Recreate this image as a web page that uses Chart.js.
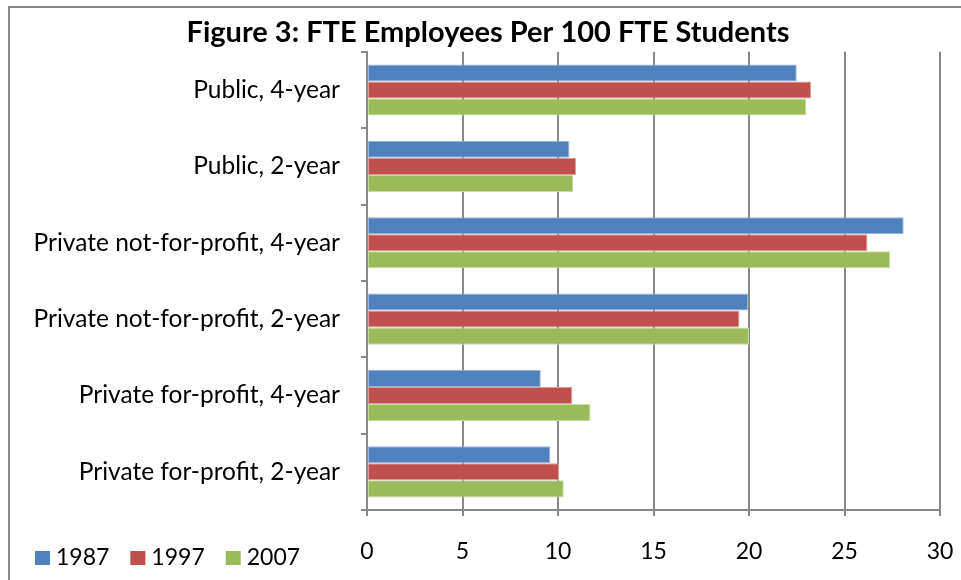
<!DOCTYPE html>
<html>
<head>
<meta charset="utf-8">
<script src="https://cdn.jsdelivr.net/npm/chart.js@4.4.0/dist/chart.umd.min.js"></script>
<style>
  html, body { margin: 0; padding: 0; background: #fff; }
  #wrap { width: 961px; height: 580px; position: relative; }
</style>
</head>
<body>
<div id="wrap"><canvas id="barChart" width="961" height="580"></canvas></div>
<script>
// dati
const categories = [
  "Public, 4-year",
  "Public, 2-year",
  "Private not-for-profit, 4-year",
  "Private not-for-profit, 2-year",
  "Private for-profit, 4-year",
  "Private for-profit, 2-year"
];
const years = ["1987", "1997", "2007"];
const values1987 = [22.5, 10.6, 28.1, 19.95, 9.1, 9.6];
const values1997 = [23.25, 10.95, 26.2, 19.5, 10.75, 10.05];
const values2007 = [23.0, 10.8, 27.4, 20.0, 11.7, 10.3];
const xTicks = [0, 5, 10, 15, 20, 25, 30];

const fillColors = ["#4F81BD", "#C0504D", "#9BBB59"];
const edgeColors = ["#9DB7DA", "#DB9C9A", "#C6D9A3"];
const gridColor = "#888888";
const fontFamily = "Lato, 'Open Sans', sans-serif";

// bordo esterno + legenda in basso a sinistra
const frameAndLegend = {
  id: "frameAndLegend",
  afterLayout(chart) {
    // sposta un po' il titolo a destra come nell'originale
    if (chart.titleBlock) {
      chart.titleBlock.left += 18;
      chart.titleBlock.right += 18;
    }
  },
  afterDraw(chart) {
    const ctx = chart.ctx;
    ctx.save();
    ctx.strokeStyle = gridColor;
    ctx.lineWidth = 2;
    ctx.strokeRect(9, 7, 1000, 1000);

    ctx.font = "23px " + fontFamily;
    ctx.textBaseline = "middle";
    let x = 35;
    chart.data.datasets.forEach((ds) => {
      ctx.fillStyle = ds.backgroundColor;
      ctx.fillRect(x, 551, 15, 14);
      ctx.fillStyle = "#000";
      ctx.fillText(ds.label, x + 21, 558);
      x += 21 + ctx.measureText(ds.label).width + 21;
    });
    ctx.restore();
  },
};

const ctx = document.getElementById("barChart").getContext("2d");
new Chart(ctx, {
  type: "bar",
  data: {
    labels: categories,
    datasets: [values1987, values1997, values2007].map((vals, i) => ({
      label: years[i],
      data: vals,
      backgroundColor: fillColors[i],
      borderColor: edgeColors[i],
      borderWidth: 1,
      borderSkipped: false,
      categoryPercentage: 0.67,
      barPercentage: 1.0,
    })),
  },
  options: {
    indexAxis: "y",
    responsive: false,
    animation: false,
    layout: { padding: { left: 0, right: 21, top: 0, bottom: 0 } },
    plugins: {
      legend: { display: false },
      tooltip: { enabled: false },
      title: {
        display: true,
        text: "Figure 3: FTE Employees Per 100 FTE Students",
        color: "#000",
        font: { family: fontFamily, size: 29, weight: "bold", lineHeight: 1.2 },
        padding: { top: 15, bottom: 2 },
      },
    },
    scales: {
      x: {
        min: 0,
        max: 30,
        afterBuildTicks: (axis) => {
          axis.ticks = xTicks.map((v) => ({ value: v }));
        },
        afterFit: (axis) => {
          axis.height = 70;
          axis.paddingLeft = 0;
          axis.paddingRight = 0;
        },
        grid: { color: gridColor, lineWidth: 2, tickLength: 6, drawTicks: true },
        border: { color: gridColor, width: 2 },
        ticks: { color: "#000", padding: 22, font: { family: fontFamily, size: 23 } },
      },
      y: {
        afterFit: (axis) => { axis.width = 367; },
        grid: { drawOnChartArea: false, color: gridColor, lineWidth: 2, tickLength: 6, offset: true },
        border: { color: gridColor, width: 2 },
        ticks: { color: "#000", padding: 21, font: { family: fontFamily, size: 24.5 } },
      },
    },
  },
  plugins: [frameAndLegend],
});
</script>
</body>
</html>
